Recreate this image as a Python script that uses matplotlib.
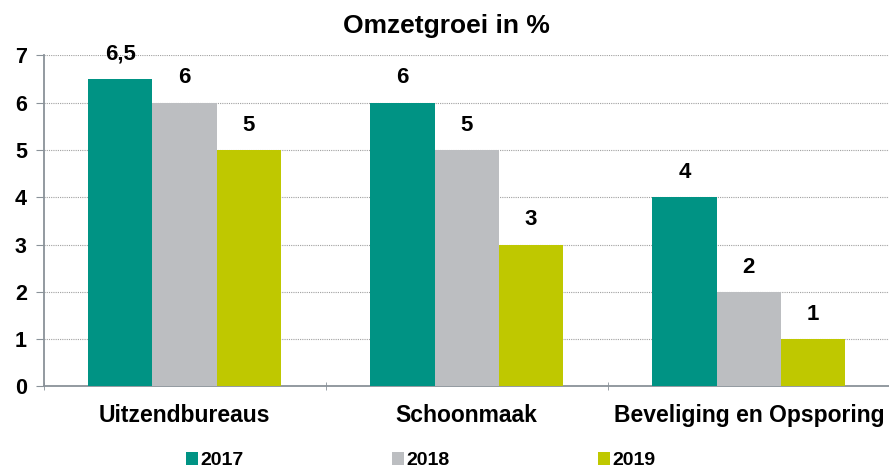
import matplotlib.pyplot as plt
import numpy as np

categories = ['Uitzendbureaus', 'Schoonmaak', 'Beveliging en Opsporing']
years = ['2017', '2018', '2019']
v2017 = [6.5, 6, 4]
v2018 = [6, 5, 2]
v2019 = [5, 3, 1]
colors = ['#009384', '#BCBEC1', '#BFC800']

plt.rcParams['font.family'] = ['Liberation Sans', 'DejaVu Sans']
plt.rcParams['font.weight'] = 'bold'

fig = plt.figure(figsize=(8.89, 4.73), dpi=100)
ax = fig.add_axes([0.049, 0.183, 0.952, 0.700])

x = np.arange(len(categories))
w = 0.228
for i, (vals, yr) in enumerate(zip([v2017, v2018, v2019], years)):
    bars = ax.bar(x + (i - 1) * w, vals, w, color=colors[i], label=yr, zorder=3)
    for b, v in zip(bars, vals):
        lbl = ('%g' % v).replace('.', ',')
        ax.text(b.get_x() + b.get_width() / 2, v + 0.3, lbl, ha='center', va='bottom',
                fontsize=16, fontweight='bold')

ax.set_xlim(-0.5, 2.5)
ax.set_ylim(0, 7)
ax.set_yticks(range(8))
ax.yaxis.grid(True, linestyle=(0, (1, 1)), color='#A0A0A0', linewidth=0.8, zorder=0)
ax.set_xticks(x)
ax.set_xticklabels(categories, fontsize=16.5, fontweight='bold')
ax.set_xticks([-0.5, 0.5, 1.5], minor=True)
ax.tick_params(axis='x', which='major', length=0, pad=13)
ax.tick_params(axis='x', which='minor', length=6, direction='inout', color='#8A9299')
ax.tick_params(axis='y', labelsize=15.5, length=6, direction='out', color='#8A9299', pad=6)
for s in ['top', 'right']:
    ax.spines[s].set_visible(False)
for s in ['left', 'bottom']:
    ax.spines[s].set_color('#8A9299')
    ax.spines[s].set_linewidth(1.3)

ax.set_title('Omzetgroei in %', fontsize=19, fontweight='bold', pad=16, x=0.476)

fig.legend(loc='center left', bbox_to_anchor=(0.209, 0.026), ncol=3,
           frameon=False, fontsize=14, handlelength=0.62, handleheight=0.62, handletextpad=0.15,
           columnspacing=7.6, borderpad=0, borderaxespad=0)

fig.savefig('out.png', dpi=100)
